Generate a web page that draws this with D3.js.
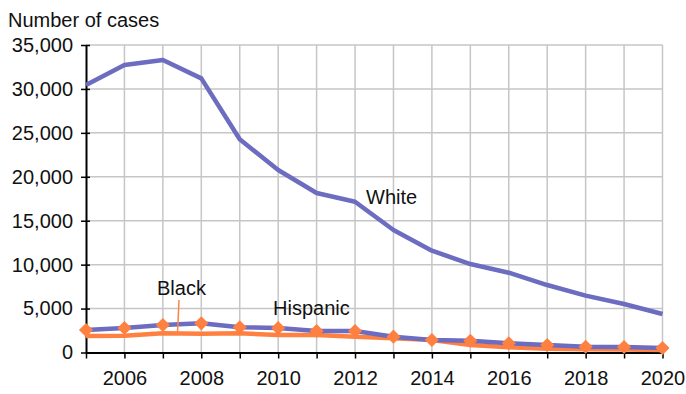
<!DOCTYPE html>
<html><head><meta charset="utf-8">
<script src="https://cdn.jsdelivr.net/npm/d3@7"></script>
<style>
body{margin:0;background:#fff;}
text{font-family:"Liberation Sans",Arial,Helvetica,sans-serif;fill:#111;}
</style></head>
<body><svg id="c" width="686" height="394"></svg>
<script>
const years = [2005,2006,2007,2008,2009,2010,2011,2012,2013,2014,2015,2016,2017,2018,2019,2020];
const white = [30450,32720,33290,31200,24270,20770,18150,17160,13940,11590,10070,9080,7680,6470,5520,4380];
const black = [2560,2790,3130,3320,2870,2790,2450,2450,1800,1420,1340,1050,850,660,630,510];
const hispanic = [1880,1900,2180,2140,2180,1990,1990,1800,1610,1420,850,590,430,360,340,280];
const yTicks = [0,5000,10000,15000,20000,25000,30000,35000];
const xTickLabels = [2006,2008,2010,2012,2014,2016,2018,2020];

const svg = d3.select("#c");
const L=86, R=662.5, T=45, B=352.5;
const x = d3.scaleLinear().domain([2005,2020]).range([L,R]);
const y = d3.scaleLinear().domain([0,35000]).range([B,T]);
const blue="#6c6cc0", orange="#ff8142";

// grid
svg.append("g").selectAll("line").data(years.slice(1)).join("line")
  .attr("x1",d=>x(d)).attr("x2",d=>x(d)).attr("y1",T).attr("y2",B)
  .attr("stroke","#c6c6c6").attr("stroke-width",1.5);
svg.append("g").selectAll("line").data(yTicks.slice(1)).join("line")
  .attr("x1",L).attr("x2",R).attr("y1",d=>y(d)).attr("y2",d=>y(d))
  .attr("stroke","#c6c6c6").attr("stroke-width",1.5);

// axes
const ya = svg.append("g").attr("transform",`translate(${L},0)`)
  .call(d3.axisLeft(y).tickValues(yTicks).tickFormat(d3.format(",")).tickSizeInner(5).tickSizeOuter(0).tickPadding(8));
ya.selectAll("text").attr("font-size",20).attr("font-family","Liberation Sans, Arial, sans-serif").attr("fill","#111");
ya.selectAll("line").attr("stroke","#000").attr("stroke-width",1.5).attr("x2",-5).attr("x1",4);
ya.select(".domain").attr("stroke","#000").attr("stroke-width",2);

const xa = svg.append("g").attr("transform",`translate(0,${B})`)
  .call(d3.axisBottom(x).tickValues(years).tickFormat(d=>xTickLabels.includes(d)?String(d):"").tickSizeInner(6).tickSizeOuter(0).tickPadding(12));
xa.selectAll("text").attr("font-size",20).attr("font-family","Liberation Sans, Arial, sans-serif").attr("fill","#111");
xa.selectAll("line").attr("stroke","#000").attr("stroke-width",1.5);
xa.select(".domain").attr("stroke","#000").attr("stroke-width",2);

const line = d3.line().x((d,i)=>x(years[i])).y(d=>y(d));
svg.append("path").datum(white).attr("d",line).attr("fill","none").attr("stroke",blue).attr("stroke-width",4.5).attr("stroke-linejoin","round");
svg.append("path").datum(hispanic).attr("d",line).attr("fill","none").attr("stroke",orange).attr("stroke-width",4.5).attr("stroke-linejoin","round");
svg.append("path").datum(black).attr("d",line).attr("fill","none").attr("stroke",blue).attr("stroke-width",4.5).attr("stroke-linejoin","round");
svg.append("g").selectAll("path").data(black).join("path")
  .attr("d",d3.symbol(d3.symbolSquare,100))
  .attr("transform",(d,i)=>`translate(${x(years[i])},${y(d)}) rotate(45)`)
  .attr("fill",orange);

// labels
svg.append("text").attr("x",8).attr("y",27).attr("font-size",20).text("Number of cases");
svg.append("text").attr("x",366).attr("y",204).attr("font-size",20).text("White");
svg.append("text").attr("x",157).attr("y",295).attr("font-size",20).text("Black");
svg.append("text").attr("x",273).attr("y",315).attr("font-size",20).text("Hispanic");
svg.append("line").attr("x1",179).attr("y1",300).attr("x2",177.5).attr("y2",y(hispanic[2]+10))
  .attr("stroke",orange).attr("stroke-width",1.5);
</script></body></html>
